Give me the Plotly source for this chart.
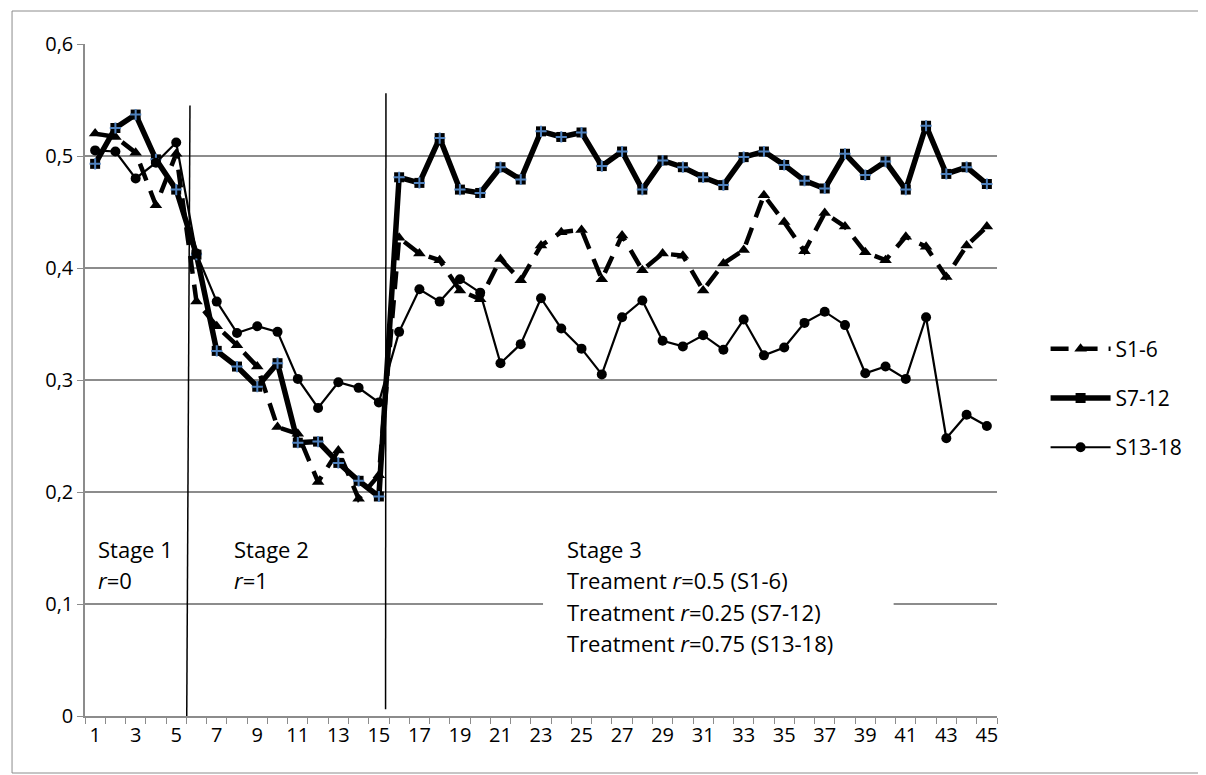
import plotly.graph_objects as go

periods = list(range(1, 46))
s1_6 = [0.520, 0.517, 0.503, 0.456, 0.502, 0.370, 0.348, 0.331, 0.312, 0.258,
        0.252, 0.209, 0.237, 0.194, 0.215, 0.427, 0.413, 0.407, 0.380, 0.372,
        0.408, 0.389, 0.420, 0.432, 0.434, 0.390, 0.429, 0.398, 0.413, 0.411,
        0.380, 0.404, 0.416, 0.465, 0.441, 0.415, 0.449, 0.437, 0.414, 0.407,
        0.428, 0.419, 0.392, 0.420, 0.437]
s7_12 = [0.493, 0.525, 0.537, 0.497, 0.470, 0.412, 0.326, 0.312, 0.294, 0.315,
         0.244, 0.245, 0.226, 0.210, 0.196, 0.481, 0.476, 0.516, 0.470, 0.467,
         0.490, 0.479, 0.522, 0.517, 0.521, 0.491, 0.504, 0.470, 0.496, 0.490,
         0.481, 0.474, 0.499, 0.504, 0.492, 0.478, 0.471, 0.502, 0.483, 0.495,
         0.470, 0.527, 0.484, 0.490, 0.475]
s13_18 = [0.505, 0.504, 0.480, 0.494, 0.512, 0.413, 0.370, 0.342, 0.348, 0.343,
          0.301, 0.275, 0.298, 0.293, 0.280, 0.343, 0.381, 0.370, 0.390, 0.378,
          0.315, 0.332, 0.373, 0.346, 0.328, 0.305, 0.356, 0.371, 0.335, 0.330,
          0.340, 0.327, 0.354, 0.322, 0.329, 0.351, 0.361, 0.349, 0.306, 0.312,
          0.301, 0.356, 0.248, 0.269, 0.259]
x_tick_values = list(range(1, 46, 2))
x_tick_labels = [str(v) for v in x_tick_values]
y_tick_values = [0, 0.1, 0.2, 0.3, 0.4, 0.5, 0.6]
y_tick_labels = ["0", "0,1", "0,2", "0,3", "0,4", "0,5", "0,6"]

FONT = "Open Sans"
GRID = "#8c8c8c"

# page-pixel geometry of the plot area (page has 8px body margin)
PL, PR, PT, PB = 85.0, 997.4, 44.0, 716.0
PW, PH = PR - PL, PB - PT

fig = go.Figure()
fig.add_trace(go.Scatter(
    x=periods, y=s1_6, name="S1-6", mode="lines+markers",
    line=dict(color="black", width=4.5, dash="18px,11px"),
    marker=dict(symbol="triangle-up", size=11, color="black"),
    legendgroup="a"))
fig.add_trace(go.Scatter(
    x=periods, y=s7_12, name="S7-12", mode="lines+markers",
    line=dict(color="black", width=5.5),
    marker=dict(symbol="square", size=10, color="black"),
    legendgroup="b"))
fig.add_trace(go.Scatter(
    x=periods, y=s7_12, name="S7-12", mode="markers", showlegend=False,
    marker=dict(symbol="cross-thin-open", size=8, color="#4f81bd",
                line=dict(color="#4f81bd", width=2)),
    legendgroup="b", hoverinfo="skip"))
fig.add_trace(go.Scatter(
    x=periods, y=s13_18, name="S13-18", mode="lines+markers",
    line=dict(color="black", width=2.2),
    marker=dict(symbol="circle", size=10, color="black"),
    legendgroup="c"))

# stage separator lines
fig.add_shape(type="line", x0=5.52, x1=5.68, y0=0, y1=0.545,
              line=dict(color="black", width=1.5))
fig.add_shape(type="line", x0=15.33, x1=15.35, y0=0.006, y1=0.556,
              line=dict(color="black", width=1.5))

# white box behind stage 3 text
fig.add_shape(type="rect", x0=23.1, x1=40.4, y0=0.05, y1=0.165,
              fillcolor="white", line=dict(width=0), layer="above")

def ann(x, y, text):
    fig.add_annotation(x=x, y=y, text=text, showarrow=False, xanchor="left",
                       yanchor="middle", font=dict(family=FONT, size=22, color="black"))

ann(1.05, 0.149, "Stage 1")
ann(1.05, 0.121, "<i>r</i>=0")
ann(7.75, 0.149, "Stage 2")
ann(7.75, 0.121, "<i>r</i>=1")
ann(24.2, 0.149, "Stage 3")
ann(24.2, 0.121, "Treament <i>r</i>=0.5 (S1-6)")
ann(24.2, 0.093, "Treatment <i>r</i>=0.25 (S7-12)")
ann(24.2, 0.065, "Treatment <i>r</i>=0.75 (S13-18)")

# chart area border (page pixels -> paper)
fig.add_shape(type="rect", xref="paper", yref="paper",
              x0=(12 - PL) / PW, x1=(1204 - PL) / PW,
              y0=(PB - 773) / PH, y1=(PB - 11) / PH,
              line=dict(color="#8c8c8c", width=1), fillcolor="rgba(0,0,0,0)")

W, H = 1198, 767
fig.update_layout(
    width=W, height=H,
    margin=dict(l=PL - 8, r=W - (PR - 8), t=PT - 8, b=H - (PB - 8)),
    paper_bgcolor="white", plot_bgcolor="white",
    font=dict(family=FONT, size=20, color="black"),
    showlegend=True,
    legend=dict(x=(1046 - PL) / PW, y=(PB - 398) / PH, xanchor="left", yanchor="middle",
                traceorder="grouped", tracegroupgap=19,
                font=dict(family=FONT, size=21, color="black"),
                itemwidth=60, bgcolor="rgba(0,0,0,0)"),
    xaxis=dict(range=[0.5, 45.5], tickmode="array",
               tickvals=x_tick_values, ticktext=x_tick_labels,
               ticks="", showgrid=False, zeroline=False,
               showline=True, linecolor=GRID, linewidth=1.5,
               tickfont=dict(family=FONT, size=20, color="black"),
               minor=dict(tickmode="array", tickvals=[i + 0.5 for i in range(0, 46)],
                          ticks="outside", ticklen=6, tickcolor=GRID, tickwidth=1.2,
                          showgrid=False)),
    yaxis=dict(range=[0, 0.6], tickmode="array", tickvals=y_tick_values,
               ticktext=y_tick_labels, showgrid=True, gridcolor=GRID, gridwidth=1.5,
               zeroline=False, showline=True, linecolor=GRID, linewidth=1.5,
               ticks="outside", ticklen=6, tickcolor=GRID,
               tickfont=dict(family=FONT, size=20, color="black")),
)

fig.write_html("out.html")
